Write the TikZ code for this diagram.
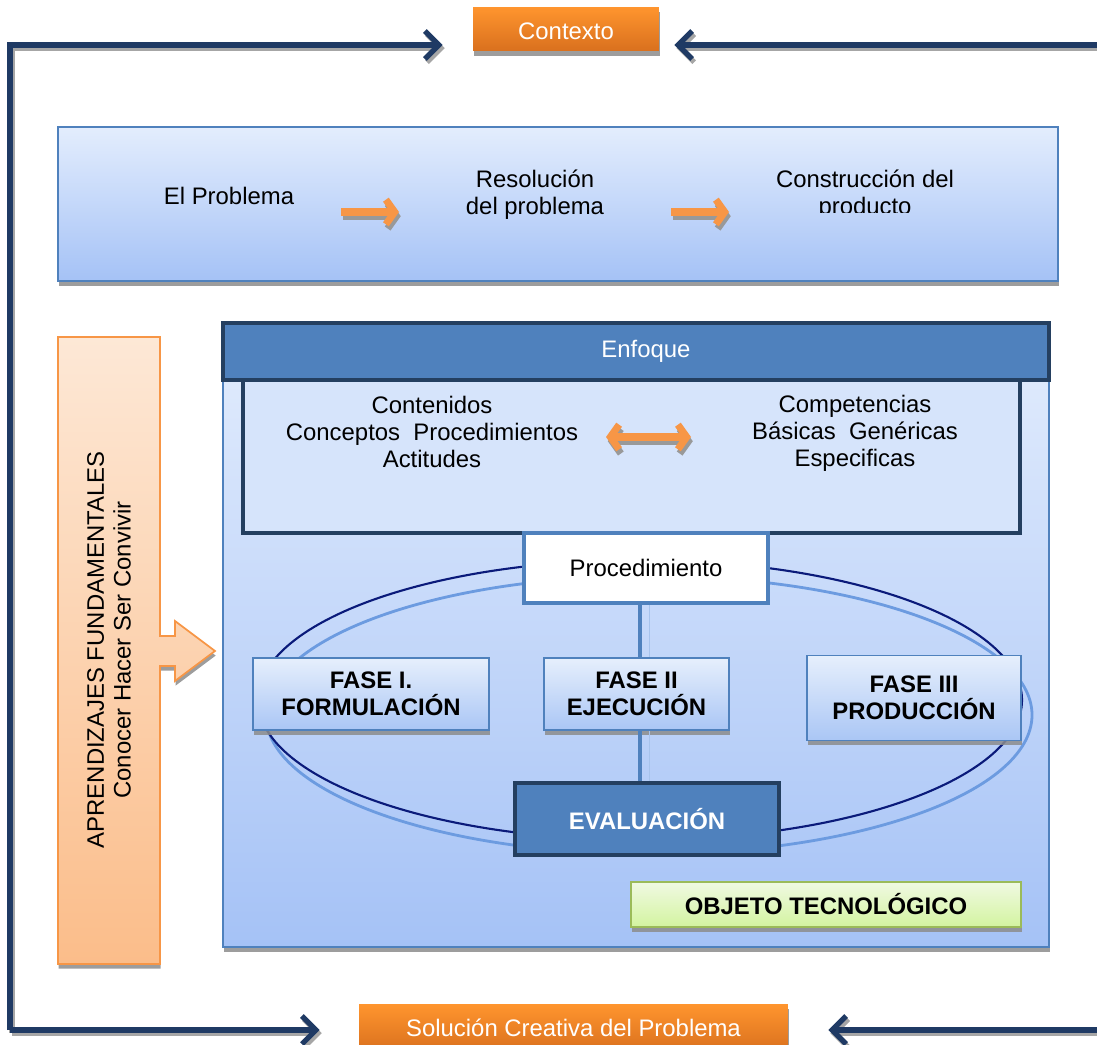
\documentclass[tikz,border=0pt]{standalone}
\usepackage{fontspec}
\setmainfont{Liberation Sans}
\usetikzlibrary{arrows.meta,shadows,calc}
\definecolor{navy}{HTML}{1F3A64}
\definecolor{ctop}{HTML}{FF952E}
\definecolor{cbot}{HTML}{D9701E}
\definecolor{bborder}{HTML}{4F81BD}
\definecolor{dborder}{HTML}{243F60}
\definecolor{ltop}{HTML}{E3EDFD}
\definecolor{lbot}{HTML}{A5C2F6}
\definecolor{ftop}{HTML}{E6EFFC}
\definecolor{fbot}{HTML}{AAC6F5}
\definecolor{gtop}{HTML}{F0F9E2}
\definecolor{gbot}{HTML}{D3F4A0}
\definecolor{gborder}{HTML}{9BBB59}
\definecolor{otop}{HTML}{FDE8D6}
\definecolor{obot}{HTML}{FBBD8A}
\definecolor{oborder}{HTML}{F79646}
\definecolor{arrow}{HTML}{F79646}
\definecolor{ellD}{HTML}{0A1A7A}
\definecolor{ellL}{HTML}{6C9BE0}
\definecolor{inner}{HTML}{D6E4FB}
\tikzset{
  shad/.style={drop shadow={shadow xshift=0.4pt,shadow yshift=-2.6pt,fill=black!45,opacity=.85}},
  orangebox/.style={rectangle,inner sep=0,top color=ctop,bottom color=cbot,text=white,shad},
  lightbox/.style={rectangle,inner sep=0,draw=bborder,line width=0.8pt,top color=ltop,bottom color=lbot,shad},
  fasebox/.style={rectangle,inner sep=0,draw=bborder,line width=1pt,top color=ftop,bottom color=fbot,shad,align=center,font=\fontsize{13.6}{15.3}\selectfont\bfseries},
  darkbox/.style={rectangle,inner sep=0,draw=dborder,line width=2.4pt,fill=bborder,text=white},
  navyline/.style={draw=navy,line width=3pt},
  navyarrow/.style={navyline,-{Straight Barb[length=8pt,width=16pt,line width=3pt]}},
  grayline/.style={draw=black!35,line width=3pt},
  grayarrow/.style={grayline,-{Straight Barb[length=8pt,width=16pt,line width=3pt]}},
  oarrow/.style={draw=arrow,line width=4pt,-{Straight Barb[length=5pt,width=14pt]}},
  goarrow/.style={draw=black!40,line width=4pt,-{Straight Barb[length=5pt,width=14pt]}},
  plain/.style={align=center,inner sep=0},
}
\begin{document}
\begin{tikzpicture}[x=0.02cm,y=-0.02cm,font=\fontsize{13.6}{15.3}\selectfont]
\useasboundingbox (0,0) rectangle (1097,1044);

% top and bottom orange boxes
\node[orangebox,minimum width=3.72cm,minimum height=0.88cm] (ctx) at (566,29) {};
\node[plain,text=white] (ctxt) at (566,31) {Contexto};
\node[orangebox,minimum width=8.58cm,minimum height=0.96cm] (sol) at (573.5,1028) {Solución Creativa del Problema};

% frame coordinates
\coordinate (tl) at (10,45);
\coordinate (bl) at (10,1030);
\coordinate (tr) at (1097,45);
\coordinate (br) at (1097,1030);

% shadows of navy connectors
\begin{scope}[transform canvas={xshift=1.2pt,yshift=-1.8pt}]
\draw[grayarrow,shorten >=0.6cm] (bl) -- (tl) -- (tl -| ctx.west);
\draw[grayarrow,shorten >=0.3cm] (tr) -- (tr -| ctx.east);
\draw[grayarrow,shorten >=0.78cm] (bl) -- (bl -| sol.west);
\draw[grayarrow,shorten >=0.8cm] (br) -- (br -| sol.east);
\end{scope}
% navy connectors
\draw[navyarrow,shorten >=0.6cm] (bl) -- (tl) -- (tl -| ctx.west);
\draw[navyarrow,shorten >=0.3cm] (tr) -- (tr -| ctx.east);
\draw[navyarrow,shorten >=0.78cm] (bl) -- (bl -| sol.west);
\draw[navyarrow,shorten >=0.8cm] (br) -- (br -| sol.east);

% top process box
\node[lightbox,minimum width=20cm,minimum height=3.08cm] (top) at (558,204) {};
\node[plain] (prob) at (229,196) {El Problema};
\node[plain] (reso) at (535,195) {Resolución\\del problema};
\begin{scope}
\clip (740,150) rectangle (990,212);
\node[plain] (constr) at (865,195) {Construcción del\\producto};
\end{scope}
\coordinate (a1s) at (341,212);
\coordinate (a1e) at (399,212);
\coordinate (a2s) at (671,212);
\coordinate (a2e) at (729,212);
\begin{scope}[transform canvas={xshift=1pt,yshift=-2.4pt}]
\draw[goarrow] (a1s) -- (a1e);
\draw[goarrow] (a2s) -- (a2e);
\end{scope}
\draw[oarrow] (a1s) -- (a1e);
\draw[oarrow] (a2s) -- (a2e);

% left orange box with arrow
\path[draw=oborder,line width=1pt,top color=otop,bottom color=obot,shad]
  (58,337) -- (160,337) -- (160,636) -- (175,636) -- (175,621) -- (215,651)
  -- (175,681) -- (175,666) -- (160,666) -- (160,964) -- (58,964) -- cycle;
\node[plain,rotate=90] (apr) at (109,650) {APRENDIZAJES FUNDAMENTALES\\Conocer Hacer Ser Convivir};

% main panel
\node[rectangle,inner sep=0,draw=bborder,line width=0.8pt,top color=ltop,bottom color=lbot,shad,minimum width=16.52cm,minimum height=12.48cm] (panel) at (636,635) {};
\node[rectangle,inner sep=0,draw=dborder,line width=2.4pt,fill=inner,minimum width=15.54cm,minimum height=3.06cm] (inbox) at (631.5,456.5) {};
\node[darkbox,minimum width=16.52cm,minimum height=1.14cm] (enf) at (636,351.5) {\hspace{0.4cm}Enfoque};
\node[plain] (cont) at (432,432) {Contenidos\\Conceptos\ \ Procedimientos\\Actitudes};
\node[plain] (comp) at (855,433) {Competencias\\Básicas\ \ Genéricas\\Especificas};
\coordinate (d1) at (606,437);
\coordinate (d2) at (691,437);
\begin{scope}[transform canvas={xshift=1pt,yshift=-2.4pt}]
\draw[draw=black!40,line width=4pt,{Straight Barb[length=5pt,width=14pt]}-{Straight Barb[length=5pt,width=14pt]}] (d1) -- (d2);
\end{scope}
\draw[draw=arrow,line width=4pt,{Straight Barb[length=5pt,width=14pt]}-{Straight Barb[length=5pt,width=14pt]}] (d1) -- (d2);

% ellipses
\draw[ellL,line width=1.6pt] (649,715) ellipse [x radius=383, y radius=139];
\draw[ellD,line width=1.2pt] (640,700) ellipse [x radius=382, y radius=140];

% boxes on the cycle
\node[rectangle,inner sep=0,draw=bborder,line width=2pt,fill=white,minimum width=4.88cm,minimum height=1.4cm] (proc) at (646,568) {Procedimiento};
\node[fasebox,minimum width=4.72cm,minimum height=1.44cm] (f1) at (371,694) {FASE I.\\FORMULACIÓN};
\node[fasebox,minimum width=3.7cm,minimum height=1.44cm] (f2) at (636.5,694) {FASE II\\EJECUCIÓN};
\node[fasebox,minimum width=4.28cm,minimum height=1.7cm] (f3) at (914,698) {FASE III\\PRODUCCIÓN};
\node[darkbox,minimum width=5.28cm,minimum height=1.44cm,font=\fontsize{13.6}{15.3}\selectfont\bfseries] (eval) at (647,819) {EVALUACIÓN};

% vertical connectors
\draw[draw=ellL!60,line width=0.8pt] ([xshift=0.26cm]proc.south -| f2.north) -- ([xshift=0.26cm]f2.north);
\draw[draw=ellL!60,line width=0.8pt] ([xshift=0.26cm]f2.south) -- ([xshift=0.26cm]f2.south |- eval.north);
\draw[draw=bborder,line width=2.3pt] ([xshift=0.07cm]proc.south -| f2.north) -- ([xshift=0.07cm]f2.north);
\draw[draw=bborder,line width=2.3pt] ([xshift=0.07cm]f2.south) -- ([xshift=0.07cm]f2.south |- eval.north);

\node[rectangle,inner sep=0,draw=gborder,line width=1pt,top color=gtop,bottom color=gbot,shad,minimum width=7.8cm,minimum height=0.9cm,font=\fontsize{13.6}{15.3}\selectfont\bfseries] (obj) at (826,904.5) {OBJETO TECNOLÓGICO};
\end{tikzpicture}
\end{document}
